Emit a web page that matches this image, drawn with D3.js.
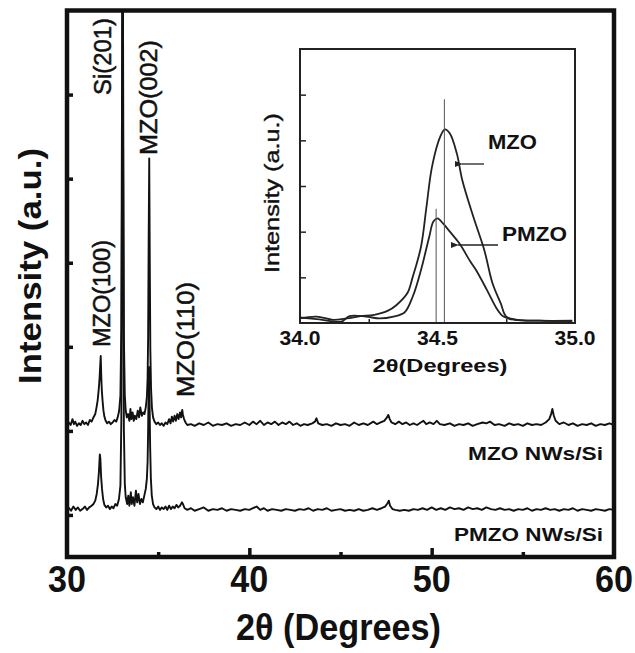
<!DOCTYPE html>
<html>
<head>
<meta charset="utf-8">
<script src="https://cdn.jsdelivr.net/npm/d3@7/dist/d3.min.js"></script>
<style>
  body { margin: 0; background: #fff; }
  svg { display: block; }
  text { font-family: "Liberation Sans", Arial, sans-serif; fill: #111; }
</style>
</head>
<body>
<svg id="chart" width="635" height="653"></svg>
<script>
// XRD patterns, [2theta, counts above each pattern's baseline]
const mzoPattern = [
  [30.00,4],[30.10,8],[30.20,5],[30.30,12],[30.38,6],[30.45,9],[30.55,4],[30.65,7],[30.75,5],[30.85,10],
  [30.95,6],[31.05,8],[31.15,5],[31.25,11],[31.35,9],[31.45,14],[31.55,18],[31.62,26],[31.68,34],[31.73,45],
  [31.78,58],[31.82,75],[31.85,87],[31.88,62],[31.91,46],[31.95,34],[32.00,22],[32.05,15],[32.12,10],[32.20,7],
  [32.30,9],[32.40,6],[32.50,8],[32.60,11],[32.70,9],[32.78,14],[32.86,22],[32.93,40],[32.98,120],[33.02,420],
  [33.05,720],[33.08,420],[33.12,110],[33.17,40],[33.22,22],[33.28,14],[33.35,18],[33.42,10],[33.48,24],[33.53,12],
  [33.60,20],[33.66,10],[33.72,16],[33.80,12],[33.88,22],[33.95,14],[34.02,26],[34.10,16],[34.18,20],[34.25,18],
  [34.32,26],[34.38,38],[34.42,60],[34.45,110],[34.48,230],[34.51,322],[34.54,200],[34.57,95],[34.61,48],[34.66,25],
  [34.72,14],[34.80,9],[34.90,6],[35.00,8],[35.10,5],[35.20,7],[35.30,4],[35.40,8],[35.50,6],[35.60,12],
  [35.68,7],[35.75,15],[35.82,9],[35.90,16],[35.97,10],[36.05,18],[36.12,12],[36.20,20],[36.26,14],[36.32,23],
  [36.36,17],[36.42,12],[36.50,8],[36.60,5],[36.80,6],[37.00,4],[37.25,7],[37.50,5],[37.75,8],[38.00,4],
  [38.25,6],[38.50,5],[38.75,7],[39.00,4],[39.25,6],[39.50,5],[39.75,8],[40.00,5],[40.20,9],[40.40,6],
  [40.60,10],[40.80,5],[41.00,8],[41.20,6],[41.40,9],[41.60,5],[41.80,8],[42.00,6],[42.20,9],[42.40,5],
  [42.60,7],[42.80,4],[43.00,6],[43.20,5],[43.45,7],[43.60,9],[43.68,13],[43.78,7],[44.00,5],[44.25,6],
  [44.50,4],[44.75,7],[45.00,5],[45.25,6],[45.50,4],[45.75,8],[46.00,5],[46.25,7],[46.50,5],[46.80,9],
  [47.00,6],[47.20,8],[47.40,10],[47.55,14],[47.62,17],[47.70,12],[47.80,8],[48.00,6],[48.20,9],[48.40,6],
  [48.60,8],[48.80,5],[49.00,7],[49.20,5],[49.40,8],[49.55,10],[49.70,6],[49.90,8],[50.10,6],[50.28,10],
  [50.45,6],[50.70,5],[51.00,7],[51.25,4],[51.50,6],[51.75,5],[52.00,7],[52.25,4],[52.50,6],[52.80,8],
  [53.00,7],[53.20,9],[53.45,5],[53.70,6],[54.00,4],[54.25,7],[54.50,5],[54.75,6],[55.00,4],[55.25,7],
  [55.50,5],[55.75,6],[56.00,5],[56.25,8],[56.45,12],[56.55,18],[56.62,24],[56.70,16],[56.80,10],[57.00,6],
  [57.25,8],[57.50,5],[57.75,7],[58.00,4],[58.25,6],[58.50,5],[58.75,7],[59.00,4],[59.25,6],[59.50,5],
  [59.75,7],[60.00,5]
];
const pmzoPattern = [
  [30.00,4],[30.12,7],[30.22,4],[30.35,9],[30.48,5],[30.60,8],[30.72,4],[30.85,6],[30.98,9],[31.10,5],
  [31.22,8],[31.35,10],[31.45,12],[31.55,16],[31.63,24],[31.70,36],[31.75,50],[31.80,71],[31.83,66],[31.87,45],
  [31.92,30],[31.98,18],[32.05,11],[32.15,8],[32.25,10],[32.35,6],[32.45,9],[32.55,7],[32.65,12],[32.75,10],
  [32.85,18],[32.93,34],[32.98,110],[33.02,420],[33.05,720],[33.08,400],[33.12,100],[33.17,36],[33.22,20],[33.30,12],
  [33.36,22],[33.42,10],[33.50,26],[33.55,12],[33.62,20],[33.70,10],[33.78,28],[33.85,14],[33.92,24],[34.00,12],
  [34.08,18],[34.16,14],[34.24,22],[34.32,30],[34.38,42],[34.42,62],[34.45,100],[34.48,160],[34.50,175],[34.53,130],
  [34.56,80],[34.60,42],[34.65,22],[34.72,12],[34.80,8],[34.90,6],[35.00,9],[35.10,5],[35.20,8],[35.30,6],
  [35.40,9],[35.50,5],[35.60,10],[35.70,6],[35.80,9],[35.90,7],[36.00,11],[36.10,8],[36.20,10],[36.30,14],
  [36.36,12],[36.45,7],[36.60,5],[36.80,7],[37.00,4],[37.25,6],[37.50,8],[37.75,4],[38.00,6],[38.25,5],
  [38.50,7],[38.75,4],[39.00,6],[39.25,5],[39.50,4],[39.75,6],[40.00,5],[40.20,7],[40.40,9],[40.60,5],
  [40.80,7],[41.00,4],[41.25,6],[41.50,5],[41.75,4],[42.00,6],[42.25,5],[42.50,4],[42.75,6],[43.00,5],
  [43.25,7],[43.50,4],[43.75,6],[44.00,5],[44.25,7],[44.50,4],[44.75,5],[45.00,6],[45.25,4],[45.50,5],
  [45.75,4],[46.00,6],[46.25,4],[46.50,5],[46.75,7],[47.00,5],[47.25,7],[47.45,9],[47.58,13],[47.65,16],
  [47.72,10],[47.85,6],[48.00,5],[48.25,4],[48.50,5],[48.75,4],[49.00,6],[49.25,5],[49.50,7],[49.75,5],
  [50.00,8],[50.25,5],[50.50,7],[50.75,5],[51.00,8],[51.25,6],[51.50,7],[51.75,5],[52.00,8],[52.25,6],
  [52.50,7],[52.75,5],[53.00,8],[53.25,6],[53.50,5],[53.75,7],[54.00,5],[54.25,6],[54.50,4],[54.75,6],
  [55.00,5],[55.25,7],[55.50,4],[55.75,6],[56.00,5],[56.25,7],[56.50,5],[56.75,6],[57.00,4],[57.25,6],
  [57.50,5],[57.75,7],[58.00,4],[58.25,6],[58.50,5],[58.75,4],[59.00,6],[59.25,5],[59.50,4],[59.75,6],
  [60.00,5]
];
const patternOffsets = [102, 1];            // vertical stacking of the two patterns
const sampleNames = ["MZO NWs/Si", "PMZO NWs/Si"];
const xTickLabels = [30, 40, 50, 60];
const xMinorTicks = [35, 45, 55];
const xMajorTicks = [40, 50];
const yTicks = [0, 100, 200, 300, 400, 500];

// Peak annotations: [label, 2theta position]
const peakLabels = [["Si(201)", 33.05], ["MZO(002)", 34.51], ["MZO(100)", 31.85], ["MZO(110)", 36.36]];

// Inset: (002) reflection, [2theta, intensity]
const insetMZO = [
  [34.00,0.10],[34.06,0.14],[34.12,0.07],[34.17,0.10],[34.22,0.15],[34.27,0.18],[34.32,0.27],[34.35,0.39],
  [34.39,0.65],[34.41,1.01],[34.44,1.67],[34.46,2.55],[34.48,3.42],[34.51,4.08],[34.527,4.24],[34.545,4.15],
  [34.57,3.72],[34.59,3.13],[34.63,2.33],[34.67,1.60],[34.70,0.87],[34.73,0.43],[34.75,0.14],[34.79,0.07],
  [34.87,0.05],[34.99,0.04]
];
const insetPMZO = [
  [34.00,0.12],[34.07,0.08],[34.15,0.03],[34.18,0.15],[34.24,0.14],[34.29,0.10],[34.34,0.14],[34.38,0.23],
  [34.41,0.58],[34.44,1.16],[34.47,1.89],[34.485,2.22],[34.50,2.29],[34.52,2.18],[34.545,2.00],[34.58,1.74],
  [34.62,1.34],[34.64,1.16],[34.68,0.72],[34.715,0.32],[34.74,0.14],[34.78,0.07],[34.87,0.05],[34.99,0.05]
];
const insetPeakLines = [[34.525, 4.9], [34.495, 2.5]];   // [2theta, line top]
const insetXTicks = [34.0, 34.5, 35.0];
const insetXMinor = [34.25, 34.75];
const insetYTicks = [1, 2, 3, 4, 5];

const svg = d3.select("#chart");

// ---- main panel ----
const L = 67, R = 614, T = 10.5, B = 557;
const x = d3.scaleLinear().domain([30, 60]).range([L, R]);
const y = d3.scaleLinear().domain([-50, 600]).range([B, T]);

svg.append("clipPath").attr("id", "plotClip")
  .append("rect").attr("x", L).attr("y", T).attr("width", R - L).attr("height", B - T);

const line = d3.line().x(d => x(d[0])).y(d => y(d[1]));
const plot = svg.append("g").attr("clip-path", "url(#plotClip)");
[mzoPattern, pmzoPattern].forEach((pat, i) => {
  plot.append("path")
    .datum(pat.map(d => [d[0], d[1] + patternOffsets[i]]))
    .attr("d", line)
    .attr("fill", "none").attr("stroke", "#111").attr("stroke-width", 1.9)
    .attr("stroke-linejoin", "round");
});

// axes ticks (inward)
const bottomMajor = svg.append("g").attr("transform", `translate(0,${B})`)
  .call(d3.axisBottom(x).tickValues(xMajorTicks).tickSize(-9).tickFormat(""));
const bottomMinor = svg.append("g").attr("transform", `translate(0,${B})`)
  .call(d3.axisBottom(x).tickValues(xMinorTicks).tickSize(-5).tickFormat(""));
const leftTicks = svg.append("g").attr("transform", `translate(${L},0)`)
  .call(d3.axisLeft(y).tickValues(yTicks).tickSize(-6).tickFormat(""));
[bottomMajor, bottomMinor, leftTicks].forEach(g => {
  g.select(".domain").remove();
  g.selectAll("line").attr("stroke", "#111").attr("stroke-width", 3.5);
});

svg.append("rect").attr("x", L).attr("y", T).attr("width", R - L).attr("height", B - T)
  .attr("fill", "none").attr("stroke", "#111").attr("stroke-width", 4.5);

// tick labels
svg.append("g").selectAll("text").data(xTickLabels).join("text")
  .attr("x", d => x(d)).attr("y", 592)
  .attr("text-anchor", "middle")
  .attr("font-size", 37).attr("font-weight", "bold")
  .attr("textLength", 38).attr("lengthAdjust", "spacingAndGlyphs")
  .text(d => d);

// axis titles
svg.append("text").attr("x", (L + R) / 2 - 2).attr("y", 640)
  .attr("text-anchor", "middle").attr("font-size", 36).attr("font-weight", "bold")
  .attr("textLength", 205).attr("lengthAdjust", "spacingAndGlyphs")
  .text("2θ (Degrees)");
svg.append("text")
  .attr("transform", "translate(30,266) rotate(-90)")
  .attr("text-anchor", "middle").attr("dy", "0.35em").attr("font-size", 31).attr("font-weight", "bold")
  .attr("textLength", 236).attr("lengthAdjust", "spacingAndGlyphs")
  .text("Intensity (a.u.)");

// peak labels (rotated)
const peakLabelLayout = {
  "Si(201)":  { dx: -20, base: 95,  len: 77 },
  "MZO(002)": { dx: 0,   base: 155, len: 115 },
  "MZO(100)": { dx: 1,   base: 347, len: 107 },
  "MZO(110)": { dx: 3,   base: 397, len: 115 }
};
svg.append("g").selectAll("text").data(peakLabels).join("text")
  .attr("transform", d => `translate(${x(d[1]) + peakLabelLayout[d[0]].dx},${peakLabelLayout[d[0]].base}) rotate(-90)`)
  .attr("dy", "0.35em").attr("font-size", 23)
  .attr("stroke", "#111").attr("stroke-width", 0.5)
  .attr("textLength", d => peakLabelLayout[d[0]].len).attr("lengthAdjust", "spacingAndGlyphs")
  .text(d => d[0]);

// sample names
const sampleNameY = [460, 541];
const sampleNameLen = [135, 149];
svg.append("g").selectAll("text").data(sampleNames).join("text")
  .attr("x", 603).attr("y", (d, i) => sampleNameY[i])
  .attr("text-anchor", "end").attr("font-weight", "bold").attr("font-size", 18)
  .attr("textLength", (d, i) => sampleNameLen[i]).attr("lengthAdjust", "spacingAndGlyphs")
  .text(d => d);

// ---- inset ----
const iL = 300, iR = 575, iT = 49, iB = 323;
const xi = d3.scaleLinear().domain([34, 35]).range([iL, iR]);
const yi = d3.scaleLinear().domain([0, 6]).range([iB, iT]);
const inset = svg.append("g");
inset.append("rect").attr("x", iL).attr("y", iT).attr("width", iR - iL).attr("height", iB - iT)
  .attr("fill", "#fff");

const iLine = d3.line().x(d => xi(d[0])).y(d => yi(d[1])).curve(d3.curveCatmullRom.alpha(0.5));
[insetMZO, insetPMZO].forEach(s => {
  inset.append("path").datum(s).attr("d", iLine)
    .attr("fill", "none").attr("stroke", "#222").attr("stroke-width", 1.8);
});
inset.append("g").selectAll("line").data(insetPeakLines).join("line")
  .attr("x1", d => xi(d[0])).attr("x2", d => xi(d[0]))
  .attr("y1", d => yi(d[1])).attr("y2", iB)
  .attr("stroke", "#555").attr("stroke-width", 1);

const ixMajor = inset.append("g").attr("transform", `translate(0,${iB})`)
  .call(d3.axisBottom(xi).tickValues(insetXMinor).tickSize(-4).tickFormat(""));
const iyAxis = inset.append("g").attr("transform", `translate(${iL},0)`)
  .call(d3.axisLeft(yi).tickValues(insetYTicks).tickSize(-6).tickFormat(""));
[ixMajor, iyAxis].forEach(g => {
  g.select(".domain").remove();
  g.selectAll("line").attr("stroke", "#222").attr("stroke-width", 1.5);
});
inset.append("rect").attr("x", iL).attr("y", iT).attr("width", iR - iL).attr("height", iB - iT)
  .attr("fill", "none").attr("stroke", "#222").attr("stroke-width", 2);

inset.append("g").selectAll("text").data(insetXTicks).join("text")
  .attr("x", d => xi(d)).attr("y", 345)
  .attr("text-anchor", "middle").attr("font-weight", "bold").attr("font-size", 20)
  .attr("textLength", 41).attr("lengthAdjust", "spacingAndGlyphs")
  .text(d => d.toFixed(1));
inset.append("text").attr("x", 440).attr("y", 372)
  .attr("text-anchor", "middle").attr("font-weight", "bold").attr("font-size", 19)
  .attr("textLength", 135).attr("lengthAdjust", "spacingAndGlyphs")
  .text("2θ(Degrees)");
inset.append("text")
  .attr("transform", "translate(272,193) rotate(-90)")
  .attr("text-anchor", "middle").attr("dy", "0.35em").attr("font-size", 20)
  .attr("stroke", "#111").attr("stroke-width", 0.4)
  .attr("textLength", 160).attr("lengthAdjust", "spacingAndGlyphs")
  .text("Intensity (a.u.)");

// curve labels with arrows
const insetLabels = [
  { name: "MZO",  tx: 488, ty: 149, len: 49, from: [484, 164], to: [462, 164] },
  { name: "PMZO", tx: 502, ty: 241, len: 65, from: [498, 245], to: [458, 245] }
];
svg.append("defs").append("marker").attr("id", "arrowHead")
  .attr("viewBox", "0 0 10 10").attr("refX", 1).attr("refY", 5)
  .attr("markerWidth", 7).attr("markerHeight", 6).attr("orient", "auto-start-reverse")
  .append("path").attr("d", "M10,1 L0,5 L10,9 Z").attr("fill", "#222");
insetLabels.forEach(l => {
  inset.append("text").attr("x", l.tx).attr("y", l.ty)
    .attr("font-weight", "bold").attr("font-size", 20)
    .attr("textLength", l.len).attr("lengthAdjust", "spacingAndGlyphs")
    .text(l.name);
  inset.append("line")
    .attr("x1", l.from[0]).attr("y1", l.from[1]).attr("x2", l.to[0]).attr("y2", l.to[1])
    .attr("stroke", "#222").attr("stroke-width", 1.3).attr("marker-end", "url(#arrowHead)");
});
</script>
</body>
</html>
